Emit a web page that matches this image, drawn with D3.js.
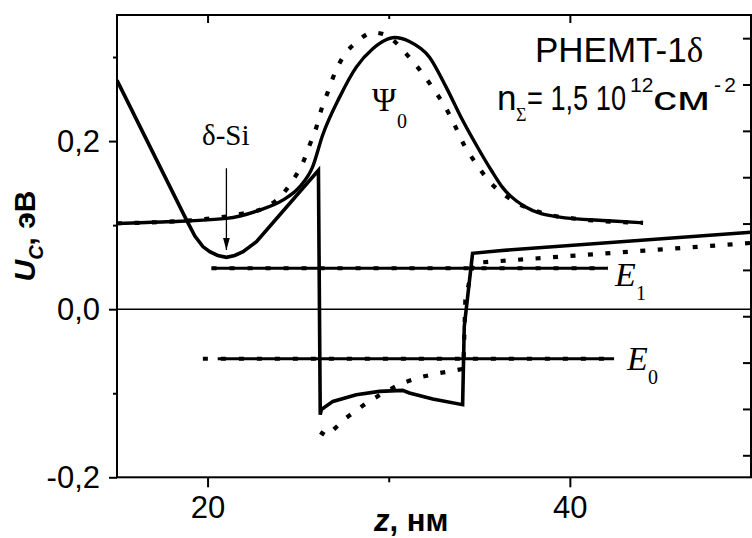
<!DOCTYPE html>
<html>
<head>
<meta charset="utf-8">
<script src="https://cdnjs.cloudflare.com/ajax/libs/d3/7.8.5/d3.min.js"></script>
<style>
  body { margin: 0; background: #fff; }
  svg { display: block; }
  .tick text { font-family: "Liberation Sans", Arial, sans-serif; font-size: 31px; fill: #000; }
  .tick line { stroke: #000; stroke-width: 2; }
</style>
</head>
<body>
<svg id="chart" width="752" height="538"></svg>
<script>
// conduction band edge U_c(z), two calculations (solid / dotted)
var potSolid = [
  [15.00, 0.2722], [18.84, 0.1060], [19.30, 0.0870], [19.74, 0.0745], [20.12, 0.0684],
  [20.56, 0.0639], [21.04, 0.0617], [21.50, 0.0639], [21.96, 0.0684], [22.70, 0.0802],
  [26.12, 0.1653], [26.22, -0.1255], [26.28, -0.1195], [26.92, -0.1097], [28.21, -0.1017],
  [29.49, -0.0978], [30.77, -0.0966], [31.14, -0.0997], [32.43, -0.1068], [34.08, -0.1136],
  [34.17, -0.0207], [34.63, 0.0665], [36.10, 0.0696], [50.00, 0.0915]
];
var potDotted = [
  [26.22, -0.146], [26.57, -0.151], [27.67, -0.129], [28.72, -0.1124], [29.63, -0.1005],
  [30.65, -0.0887], [31.64, -0.0815], [32.58, -0.0768], [33.57, -0.0732], [34.12, -0.0709],
  [34.23, 0.011], [34.67, 0.055], [50.00, 0.0788]
];

// ground state wave function Psi_0 (same vertical units)
var psiSolid = [
  [15.00, 0.1021], [17.74, 0.1040], [21.04, 0.1080], [22.88, 0.1179], [24.15, 0.1297],
  [25.08, 0.1455], [25.80, 0.1693], [26.35, 0.2069], [27.29, 0.2523], [28.21, 0.2880],
  [29.12, 0.3098], [29.77, 0.3196], [30.32, 0.3232], [31.14, 0.3185], [32.25, 0.2998],
  [33.17, 0.2642], [34.08, 0.2247], [35.00, 0.1891], [35.66, 0.1653], [36.27, 0.1452],
  [37.53, 0.1218], [39.35, 0.1099], [42.11, 0.1052], [44.04, 0.1028]
];
var psiDotted = [
  [15.00, 0.1021], [19.57, 0.1066], [21.78, 0.1131], [23.06, 0.1199], [23.98, 0.1329],
  [24.71, 0.1535], [25.26, 0.1740], [25.63, 0.1950], [26.00, 0.2160], [26.28, 0.2374],
  [26.64, 0.2583], [27.01, 0.2801], [27.47, 0.2998], [28.29, 0.3188], [29.10, 0.3291],
  [29.77, 0.3268], [30.37, 0.3176], [31.05, 0.3018], [31.88, 0.2801], [32.52, 0.2603],
  [33.07, 0.2425], [33.62, 0.2199], [34.17, 0.1950], [34.82, 0.1733], [35.50, 0.1535],
  [36.82, 0.1297], [38.31, 0.1155], [40.51, 0.1072], [44.04, 0.1028]
];

// subband levels: [value, zFrom, zTo]
var levelE1 = [0.0486, 20.22, 42.10];
var levelE0 = [-0.059, 20.56, 42.44];
var levelE0Dotted = [-0.059, 19.74, 42.44];

// delta-Si layer position and arrow span
var deltaSi = [21.04, 0.1677, 0.0704];

var xTicks = [20, 40];
var xMinor = [30];
var yTicks = [-0.2, 0, 0.2];
var yMinor = [-0.1, 0.1, 0.3];
var rightTicks = [0, 1, 2, 3, 4, 5, 6, 7, 8, 9];

var svg = d3.select("#chart");
var pLeft = 117, pRight = 751, pTop = 15, pBottom = 477.3;

var x = d3.scaleLinear().domain([15, 50]).range([pLeft, pRight]);
var y = d3.scaleLinear().domain([-0.2, 0.35]).range([pBottom, pTop]);
var yR = d3.scaleLinear().domain([-0.475, 9.5]).range([pBottom, pTop]);

var fmt = function(d) { return d3.format(".1f")(d).replace(".", ",").replace("\u2212", "-"); };

function clean(g) {
  g.select(".domain").remove();
}

// bottom axis
svg.append("g").attr("transform", "translate(0," + pBottom + ")")
  .call(d3.axisBottom(x).tickValues(xTicks).tickSize(10).tickPadding(9).tickFormat(d3.format("d")))
  .call(clean);
svg.append("g").attr("transform", "translate(0," + pBottom + ")")
  .call(d3.axisBottom(x).tickValues(xMinor).tickSize(5).tickFormat(""))
  .call(clean);
// top axis, ticks inward
svg.append("g").attr("transform", "translate(0," + pTop + ")")
  .call(d3.axisTop(x).tickValues(xTicks).tickSize(-8).tickFormat(""))
  .call(clean);
svg.append("g").attr("transform", "translate(0," + pTop + ")")
  .call(d3.axisTop(x).tickValues(xMinor).tickSize(-4).tickFormat(""))
  .call(clean);
// left axis
svg.append("g").attr("transform", "translate(" + pLeft + ",0)")
  .call(d3.axisLeft(y).tickValues(yTicks).tickSize(8).tickPadding(9).tickFormat(fmt))
  .call(clean);
svg.append("g").attr("transform", "translate(" + pLeft + ",0)")
  .call(d3.axisLeft(y).tickValues(yMinor).tickSize(4).tickFormat(""))
  .call(clean);
// right axis (no labels), ticks inward
svg.append("g").attr("transform", "translate(" + pRight + ",0)")
  .call(d3.axisRight(yR).tickValues(rightTicks).tickSize(-8).tickFormat(""))
  .call(clean);

// frame
svg.append("rect")
  .attr("x", pLeft).attr("y", pTop)
  .attr("width", pRight - pLeft).attr("height", pBottom - pTop)
  .attr("fill", "none").attr("stroke", "#000").attr("stroke-width", 2);

svg.append("clipPath").attr("id", "plot")
  .append("rect").attr("x", pLeft).attr("y", pTop)
  .attr("width", pRight - pLeft).attr("height", pBottom - pTop);

var plot = svg.append("g").attr("clip-path", "url(#plot)");

// zero line
plot.append("line")
  .attr("x1", pLeft).attr("x2", pRight)
  .attr("y1", y(0)).attr("y2", y(0))
  .attr("stroke", "#000").attr("stroke-width", 1.6);

var lin = d3.line().x(d => x(d[0])).y(d => y(d[1]));
var smooth = d3.line().x(d => x(d[0])).y(d => y(d[1])).curve(d3.curveMonotoneX);

function level(lv, width, dash) {
  plot.append("line")
    .attr("x1", x(lv[1])).attr("x2", x(lv[2]))
    .attr("y1", y(lv[0])).attr("y2", y(lv[0]))
    .attr("stroke", "#000").attr("stroke-width", width)
    .attr("stroke-dasharray", dash);
}
level(levelE1, 4, "5,13");
level(levelE1, 3, null);
level(levelE0Dotted, 4, "5,13");
level(levelE0, 3, null);

// dotted curves first, solid on top
plot.append("path").datum(psiDotted).attr("d", smooth)
  .attr("fill", "none").attr("stroke", "#000").attr("stroke-width", 4.2)
  .attr("stroke-dasharray", "5,12.5");
plot.append("path").datum(potDotted).attr("d", lin)
  .attr("fill", "none").attr("stroke", "#000").attr("stroke-width", 4.2)
  .attr("stroke-dasharray", "5,12.5");

plot.append("path").datum(psiSolid).attr("d", smooth)
  .attr("fill", "none").attr("stroke", "#000").attr("stroke-width", 3.4)
  .attr("stroke-linejoin", "round");
plot.append("path").datum(potSolid).attr("d", lin)
  .attr("fill", "none").attr("stroke", "#000").attr("stroke-width", 3.6)
  .attr("stroke-linejoin", "miter");

// delta-Si arrow
svg.append("defs").append("marker")
  .attr("id", "arrow").attr("viewBox", "0 0 10 10")
  .attr("refX", 10).attr("refY", 5)
  .attr("markerWidth", 12).attr("markerHeight", 12)
  .attr("markerUnits", "userSpaceOnUse")
  .attr("orient", "auto")
  .append("path").attr("d", "M0,2.2 L10,5 L0,7.8 z").attr("fill", "#000");
svg.append("line")
  .attr("x1", x(deltaSi[0])).attr("x2", x(deltaSi[0]))
  .attr("y1", y(deltaSi[1])).attr("y2", y(deltaSi[2]))
  .attr("stroke", "#000").attr("stroke-width", 1.3)
  .attr("marker-end", "url(#arrow)");

var serif = "'Liberation Serif', 'Times New Roman', serif";
var sans = "'Liberation Sans', Arial, sans-serif";

svg.append("text").attr("x", 202).attr("y", 145)
  .attr("font-family", serif).attr("font-size", 29).text("δ-Si");

var psiLab = svg.append("text").attr("x", 372).attr("y", 111)
  .attr("font-family", serif).attr("font-size", 33);
psiLab.append("tspan").text("Ψ");
psiLab.append("tspan").attr("x", 397).attr("y", 128).attr("font-size", 20).text("0");

function eLabel(xp, yp, sub) {
  var t = svg.append("text").attr("x", xp).attr("y", yp)
    .attr("font-family", serif).attr("font-size", 34);
  t.append("tspan").attr("font-style", "italic").text("E");
  t.append("tspan").attr("x", xp + 21).attr("y", yp + 14).attr("font-size", 20).text(sub);
}
eLabel(615, 286, "1");
eLabel(627, 370, "0");

var t1 = svg.append("text").attr("x", 535).attr("y", 62)
  .attr("font-family", sans).attr("font-size", 35);
t1.append("tspan").text("PHEMT-1");
t1.append("tspan").attr("font-family", serif).text("δ");

// second line of the note, laid out piece by piece
function note(xp, yp, txt, size, family, len, adjust) {
  var t = svg.append("text").attr("x", xp).attr("y", yp)
    .attr("font-family", family || sans).attr("font-size", size).text(txt);
  if (len) t.attr("textLength", len).attr("lengthAdjust", adjust || "spacing");
  return t;
}
note(497, 110, "n", 35);
note(516, 121, "Σ", 18, serif);
note(527, 110, "= 1,5 10", 35, sans, 99, "spacingAndGlyphs");
note(630, 92, "12", 21);
note(653, 110, "см", 34, sans, 57, "spacingAndGlyphs");
note(714, 92, "-2", 21, sans, 22);

// axis titles
var yl = svg.append("text")
  .attr("transform", "translate(35,236) rotate(-90)")
  .attr("text-anchor", "middle")
  .attr("font-family", sans).attr("font-size", 30).attr("font-weight", "bold");
yl.append("tspan").attr("font-style", "italic").text("U");
yl.append("tspan").attr("font-style", "italic").attr("font-size", 20).attr("dy", 8).text("C");
yl.append("tspan").attr("dy", -8).text(", эВ");

var xl = svg.append("text").attr("x", 374).attr("y", 531)
  .attr("font-family", sans).attr("font-size", 31).attr("font-weight", "bold");
xl.append("tspan").attr("font-style", "italic").text("z");
xl.append("tspan").text(", нм");
</script>
</body>
</html>
